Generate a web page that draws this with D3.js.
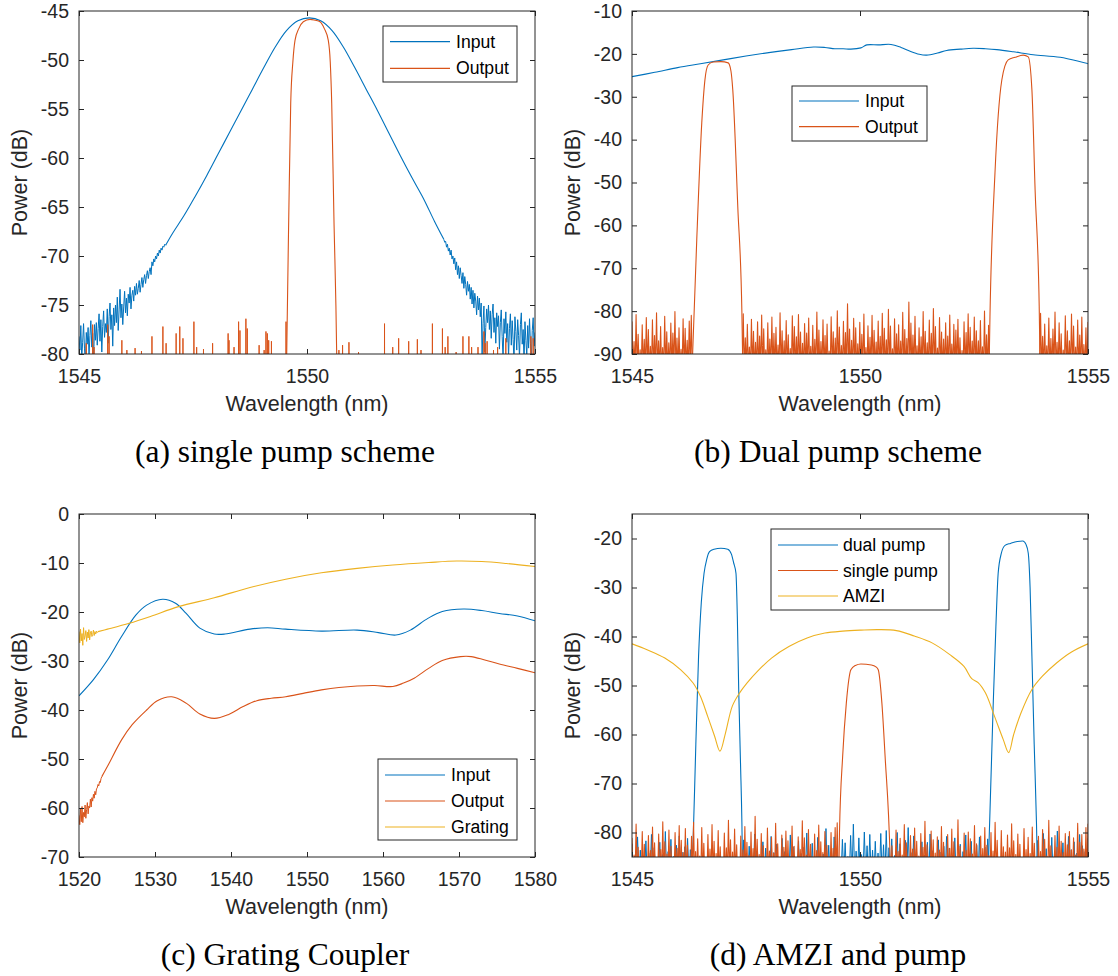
<!DOCTYPE html>
<html><head><meta charset="utf-8">
<script src="https://cdn.jsdelivr.net/npm/d3@7"></script>
<style>body{margin:0;background:#fff}svg{display:block}</style>
</head><body>
<script>
// ================= DATA =================
const BLUE = '#0072BD', ORANGE = '#D95319', YELLOW = '#EDB120';

// ---- (a) single pump scheme ----
const aXTicks = [1545, 1550, 1555];
const aYTicks = [-80, -75, -70, -65, -60, -55, -50, -45];
const aInLeftStart = 1545.00, aInLeftStep = 0.02;
const aInLeftVals = [
 -78.2,-79.6,-77.1,-80.5,-78.8,-76.9,-79.4,-81.0,-77.8,-79.0,
 -77.3,-80.2,-78.1,-76.6,-79.3,-77.9,-80.8,-77.0,-78.6,-76.8,
 -79.1,-77.4,-75.9,-78.7,-76.5,-79.8,-77.2,-75.6,-78.3,-76.9,
 -77.8,-75.4,-78.9,-76.2,-74.8,-77.5,-76.0,-79.2,-75.3,-77.1,
 -75.0,-76.8,-74.2,-77.6,-75.5,-73.4,-76.3,-74.9,-77.0,-75.2,
 -73.6,-75.8,-74.3,-76.1,-73.9,-74.8,-73.2,-75.4,-74.0,-73.5,
 -74.6,-73.1,-74.0,-72.8,-73.9,-73.3,-72.5,-73.7,-72.9,-72.2,
 -73.2,-72.4,-71.9,-72.8,-72.0,-71.5,-72.3,-71.6,-71.2,-71.9,
 -70.6,-71.0,-70.3,-70.6,-70.0,-70.3,-69.7,-70.0,-69.4,-69.7,
 -69.2,-69.4,-69.0,-69.1,-68.8,-68.9];
const aInCore = [
 [1546.9,-68.9],[1547.05,-67.7],[1547.3,-65.9],[1547.55,-63.9],[1547.8,-61.8],
 [1548.05,-59.6],[1548.3,-57.4],[1548.55,-55.2],[1548.8,-53.0],[1549.05,-50.8],
 [1549.3,-48.7],[1549.55,-47.0],[1549.8,-46.0],[1550.05,-45.7],[1550.3,-46.0],
 [1550.55,-47.0],[1550.8,-48.7],[1551.05,-50.8],[1551.3,-53.0],[1551.55,-55.2],
 [1551.8,-57.5],[1552.05,-59.8],[1552.3,-62.0],[1552.55,-64.1],[1552.8,-66.5],[1553.0,-68.3]];
const aInRightStart = 1553.00, aInRightStep = 0.02;
const aInRightVals = [
 -68.3,-68.6,-68.5,-69.1,-68.8,-69.5,-69.2,-69.9,-69.4,-70.3,
 -70.0,-70.8,-70.2,-71.4,-70.6,-71.9,-71.0,-72.3,-71.2,-72.0,
 -72.8,-71.7,-73.3,-72.1,-72.9,-74.0,-72.6,-73.6,-72.9,-74.4,
 -73.2,-74.9,-73.5,-75.3,-73.8,-74.6,-76.0,-74.1,-75.5,-74.3,
 -76.2,-74.8,-80.5,-76.9,-75.1,-79.8,-77.3,-75.4,-76.8,-75.0,
 -77.5,-75.6,-78.4,-76.0,-74.9,-77.8,-76.3,-78.9,-75.8,-77.2,
 -76.1,-79.5,-76.8,-75.5,-78.2,-80.6,-76.4,-77.9,-75.7,-78.8,
 -76.9,-80.3,-77.4,-75.9,-79.1,-76.6,-78.5,-80.8,-76.2,-77.7,
 -79.6,-76.5,-78.1,-80.4,-77.0,-75.8,-79.0,-77.5,-80.9,-76.7,
 -78.6,-80.2,-77.1,-79.4,-76.4,-78.9,-80.7,-77.6,-76.3,-79.2,
 -77.8];
const aOutBand = [
 [1549.53,-90],[1549.555,-80],[1549.6,-66],[1549.643,-54.4],[1549.69,-50.2],[1549.737,-48.0],
 [1549.82,-46.8],[1549.919,-46.1],[1550.066,-45.85],[1550.18,-45.95],[1550.285,-46.1],
 [1550.38,-46.8],[1550.467,-48.0],[1550.51,-50.2],[1550.542,-54.4],[1550.59,-66],
 [1550.651,-80],[1550.675,-90]];
const aOutSpikes = [
 [1545.16,-78.9],[1545.30,-77.0],[1545.33,-79.3],[1545.63,-77.0],[1545.66,-78.2],[1545.94,-78.6],
 [1546.05,-79.6],[1546.23,-79.4],[1546.37,-79.7],[1546.60,-78.2],[1546.84,-77.2],[1546.91,-78.9],
 [1547.13,-77.9],[1547.21,-77.2],[1547.28,-78.4],[1547.52,-76.7],[1547.58,-79.3],[1547.73,-79.5],
 [1547.93,-78.9],[1548.27,-77.9],[1548.29,-78.6],[1548.40,-79.3],[1548.50,-76.7],[1548.53,-77.6],
 [1548.66,-76.4],[1548.69,-77.4],[1548.95,-79.1],[1549.06,-79.6],[1549.10,-77.7],[1549.13,-77.9],
 [1549.16,-78.6],[1549.22,-78.7],[1549.54,-76.7],
 [1550.70,-79.6],[1550.78,-79.1],[1550.92,-78.8],[1551.13,-79.8],[1551.70,-76.9],[1551.88,-79.3],
 [1552.01,-78.4],[1552.23,-78.7],[1552.42,-78.5],[1552.50,-79.6],[1552.75,-76.9],[1552.97,-77.4],
 [1553.03,-79.3],[1553.09,-78.2],[1553.27,-79.8],[1553.42,-78.2],[1553.55,-78.2],[1553.61,-79.3],
 [1553.75,-79.3],[1553.88,-77.7],[1553.91,-78.9],[1553.95,-78.7],[1554.09,-79.6],[1554.18,-79.3],
 [1554.36,-78.4],[1554.91,-78.2],[1554.96,-78.4]];

// ---- (b) Dual pump scheme ----
const bXTicks = [1545, 1550, 1555];
const bYTicks = [-90, -80, -70, -60, -50, -40, -30, -20, -10];
const bInput = [
 [1545,-25.3],[1545.5,-24.3],[1546,-23.2],[1546.5,-22.3],[1547,-21.4],[1547.5,-20.5],
 [1548,-19.7],[1548.5,-19.0],[1548.98,-18.4],[1549.23,-18.5],[1549.45,-18.8],[1549.63,-18.8],
 [1549.8,-18.9],[1550.02,-18.6],[1550.15,-17.9],[1550.4,-17.9],[1550.68,-17.8],[1550.9,-18.5],
 [1551.1,-19.4],[1551.3,-20.1],[1551.46,-20.3],[1551.7,-19.8],[1551.9,-19.2],[1552.2,-18.9],
 [1552.48,-18.7],[1552.75,-18.8],[1553.0,-19.0],[1553.36,-19.5],[1553.8,-20.2],[1554.39,-20.8],
 [1555,-22.3]];
const bOutBand1 = [
 [1546.30,-100],[1546.33,-89.8],[1546.42,-63.4],[1546.53,-36.1],[1546.6,-26.0],[1546.67,-22.6],
 [1546.78,-21.9],[1546.95,-21.8],[1547.11,-22.1],[1547.17,-24.0],[1547.21,-28.4],[1547.32,-55.7],
 [1547.41,-80.4],[1547.44,-100]];
const bOutBand2 = [
 [1552.82,-100],[1552.85,-81.3],[1552.96,-47.8],[1553.11,-26.1],[1553.25,-21.4],[1553.4,-20.8],
 [1553.58,-20.3],[1553.69,-20.7],[1553.77,-28.4],[1553.84,-51.7],[1553.93,-79.0],[1553.96,-100]];
const bNoise1 = [1545.00, 1546.30, [
 -82.5,-87.1,-80.8,-85.4,-89.0,-83.2,-86.6,-81.5,-84.3,-88.2,
 -82.0,-85.7,-80.4,-86.9,-83.6,-88.5,-81.2,-84.8,-87.4,-82.8,
 -85.1,-80.1,-86.3,-83.9,-88.9,-81.8,-84.0,-86.8,-82.3,-81.0]];
const bNoise2 = [1547.44, 1552.82, [
 -80.6,-86.2,-83.1,-88.4,-81.9,-84.7,-87.3,-82.5,-85.8,-80.9,
 -84.1,-89.0,-82.7,-86.5,-81.4,-85.2,-83.8,-87.9,-80.4,-84.6,
 -86.9,-82.2,-85.5,-88.7,-81.1,-83.6,-86.0,-80.8,-84.9,-87.5,
 -82.9,-85.1,-81.6,-88.2,-83.3,-86.6,-80.2,-84.4,-87.1,-82.0,
 -85.7,-83.0,-89.3,-81.3,-84.8,-86.3,-79.9,-83.7,-88.0,-82.4,
 -85.0,-78.3,-84.2,-86.8,-81.7,-83.9,-87.6,-82.6,-85.4,-80.7,
 -88.5,-83.4,-86.1,-81.0,-84.5,-87.2,-82.3,-85.9,-80.5,-84.0,
 -86.7,-79.6,-83.5,-88.8,-81.8,-85.3,-83.2,-87.0,-80.3,-84.3,
 -86.4,-77.9,-82.8,-85.6,-81.2,-88.1,-83.9,-86.0,-80.1,-84.7,
 -87.4,-82.1,-85.2,-79.4,-83.6,-88.6,-81.5,-84.9,-86.5,-82.7,
 -85.8,-80.9,-87.7,-83.1,-84.4,-81.9,-86.2,-89.2,-82.5,-85.0,
 -80.6,-83.8,-87.0,-81.4,-84.6,-86.9,-82.2,-88.3,-80.0,-85.5,-83.3]];
const bNoise3 = [1553.96, 1555.00, [
 -80.5,-85.9,-83.0,-88.1,-81.6,-86.4,-84.2,-80.2,-87.3,-82.7,
 -85.3,-89.1,-81.1,-84.6,-86.9,-80.7,-83.5,-88.4,-82.1,-85.6,
 -81.4,-87.8,-83.9,-82.6]];

// ---- (c) Grating Coupler ----
const cXTicks = [1520, 1530, 1540, 1550, 1560, 1570, 1580];
const cYTicks = [-70, -60, -50, -40, -30, -20, -10, 0];
const cInput = [
 [1520,-37.1],[1521.9,-33.8],[1523.75,-29.8],[1525.6,-25.0],[1527.5,-20.6],[1528.9,-18.6],
 [1531.0,-17.4],[1532.7,-18.2],[1534.1,-20.3],[1535.9,-23.3],[1537.8,-24.5],[1539.2,-24.5],
 [1542.5,-23.5],[1544.8,-23.2],[1547.2,-23.5],[1551.9,-23.9],[1556.6,-23.7],[1559.4,-24.2],
 [1561.7,-24.7],[1563.6,-23.7],[1565.9,-21.3],[1567.8,-19.9],[1570.6,-19.4],[1573.0,-19.7],
 [1575.3,-20.3],[1577.7,-20.8],[1580,-21.8]];
const cOutNoiseStart = 1520.0, cOutNoiseStep = 0.1;
const cOutNoise = [
 -61.5,-63.4,-60.2,-62.8,-59.7,-63.0,-60.9,-61.8,-59.4,-62.1,
 -60.3,-58.9,-61.2,-59.6,-60.0,-58.2,-59.8,-57.9,-58.6,-57.2,
 -58.0,-56.6,-57.3,-56.1,-55.9,-55.2,-55.5,-54.6,-54.8,-54.0,-53.6];
const cOutput = [
 [1523,-53.6],[1523.75,-51.5],[1525.6,-46.1],[1527,-43.0],[1528.9,-40.0],[1530.3,-38.1],
 [1532.2,-37.3],[1534.1,-38.6],[1535.9,-40.8],[1537.8,-41.7],[1539.7,-40.9],[1541.6,-39.3],
 [1543.4,-38.1],[1545.3,-37.6],[1547.2,-37.3],[1549.5,-36.6],[1551.9,-35.9],[1554.2,-35.4],
 [1556.6,-35.1],[1558.9,-35.0],[1561.3,-35.2],[1562.7,-34.5],[1564.1,-33.5],[1566,-31.5],
 [1567.8,-29.9],[1570.2,-29.1],[1571.6,-29.1],[1573.4,-29.8],[1575.3,-30.6],[1577.7,-31.5],
 [1580,-32.4]];
const cGrNoiseStart = 1520.0, cGrNoiseStep = 0.1;
const cGrNoise = [
 -24.0,-26.3,-23.5,-25.9,-24.4,-26.8,-23.2,-25.6,-24.9,-23.8,
 -26.0,-24.1,-25.3,-23.6,-25.7,-24.3,-23.9,-25.0,-24.6,-23.7,
 -24.8,-24.0,-24.5,-23.9,-24.2,-24.0];
const cGrating = [
 [1522.5,-24.0],[1523.75,-23.5],[1526.6,-22.3],[1529.4,-20.9],[1533.1,-18.9],[1537.8,-17.1],
 [1542.5,-15.0],[1547.2,-13.3],[1551.9,-12.0],[1556.6,-11.1],[1561.3,-10.4],[1566,-9.9],
 [1569.7,-9.6],[1573,-9.7],[1576.25,-10.1],[1580,-10.7]];

// ---- (d) AMZI and pump ----
const dXTicks = [1545, 1550, 1555];
const dYTicks = [-80, -70, -60, -50, -40, -30, -20];
const dDualBand1 = [
 [1546.30,-92],[1546.33,-85],[1546.40,-62],[1546.46,-44],[1546.52,-33],[1546.58,-27.1],
 [1546.64,-24.2],[1546.70,-22.7],[1546.8,-22.2],[1546.95,-22.0],[1547.1,-22.2],[1547.18,-23.2],
 [1547.23,-25.0],[1547.28,-27.1],[1547.31,-36],[1547.34,-50.8],[1547.38,-66],[1547.41,-78],[1547.43,-92]];
const dDualBand2 = [
 [1552.80,-92],[1552.83,-82],[1552.92,-54.2],[1552.98,-38],[1553.03,-27.1],[1553.1,-23.0],
 [1553.18,-21.4],[1553.3,-21.0],[1553.45,-20.6],[1553.57,-20.5],[1553.64,-21.2],[1553.69,-23.0],
 [1553.73,-30],[1553.77,-44],[1553.82,-62],[1553.87,-78],[1553.9,-92]];
const dDualNoise1 = [1545.00, 1546.28, [
 -82.3,-84.8,-80.9,-83.6,-85.0,-81.7,-84.2,-80.4,-83.1,-85.3,-82.0,
 -84.5,-79.8,-83.9,-81.4,-84.9,-82.6,-80.7,-84.0,-82.9,-81.2,-83.5]];
const dDualNoise2 = [1547.45, 1552.80, [
 -81.5,-84.6,-82.8,-85.2,-80.3,-83.7,-84.9,-81.9,-83.2,-85.4,
 -80.8,-84.1,-82.4,-85.0,-81.2,-83.9,-84.7,-80.5,-82.9,-85.3,
 -81.7,-84.3,-83.0,-80.1,-84.8,-82.2,-85.1,-81.0,-83.5,-84.4,
 -79.2,-82.6,-84.0,-80.9,-83.3,-85.5,-81.4,-82.1,-84.9,-80.6,
 -78.3,-83.8,-81.1,-84.5,-79.9,-82.7,-80.4,-83.6,-81.8,-84.2,
 -80.2,-82.5,-79.6,-83.1,-81.3,-84.7,-80.0,-82.3,-85.0,-81.6,
 -79.0,-84.1,-80.7,-83.4,-85.2,-81.9,-84.6,-82.0,-80.3,-83.7,
 -85.4,-81.5,-84.0,-82.8,-80.8,-83.2,-84.8,-81.1,-85.1,-82.4,
 -83.9,-80.5,-84.3,-81.8,-85.3,-82.6,-80.9,-84.5,-83.0,-81.3]];
const dDualNoise3 = [1553.90, 1555.00, [
 -81.6,-84.4,-80.2,-83.3,-85.1,-81.0,-83.8,-79.7,-84.6,-82.1,
 -85.0,-80.8,-83.5,-81.9,-84.2,-80.4,-82.7,-83.9,-81.2]];
const dSingleBand = [
 [1549.53,-92],[1549.55,-80],[1549.62,-64.4],[1549.7,-53.6],[1549.8,-46.8],[1549.9,-45.9],
 [1550.02,-45.6],[1550.25,-45.8],[1550.35,-46.2],[1550.4,-46.8],[1550.48,-53.6],[1550.55,-64.4],
 [1550.66,-85],[1550.68,-92]];
const dSingleNoise1 = [1545.00, 1549.50, [
 -81.2,-84.6,-78.3,-83.0,-85.5,-79.8,-82.4,-84.9,-80.6,-83.7,
 -78.9,-82.1,-85.2,-80.3,-83.5,-77.8,-81.9,-84.4,-79.5,-82.8,
 -85.6,-80.0,-83.2,-78.6,-81.6,-84.1,-79.2,-82.6,-85.0,-80.8,
 -77.9,-83.9,-81.3,-84.8,-79.0,-82.2,-85.3,-80.4,-83.4,-78.4,
 -81.8,-84.3,-79.6,-82.9,-85.7,-80.1,-83.1,-77.5,-81.5,-84.0,
 -79.3,-82.5,-85.1,-80.7,-83.6,-78.8,-82.0,-84.7,-79.9,-83.3,
 -76.7,-81.4,-84.5,-80.2,-82.7,-85.4,-79.1,-83.8,-81.0,-84.2,
 -78.1,-82.3,-85.8,-80.5,-83.0,-79.7,-81.7,-84.9,-78.7,-82.8,
 -85.2,-80.9,-83.5,-77.6,-81.1,-84.6,-79.4,-82.4,-85.0,-80.3,
 -83.7,-78.5,-81.9,-84.1,-79.8,-82.6,-85.5,-80.0,-83.2,-79.0,-78.0]];
const dSingleNoise2 = [1550.70, 1555.00, [
 -82.7,-85.3,-79.5,-83.9,-81.2,-84.6,-78.4,-82.1,-85.0,-80.6,
 -83.4,-79.1,-81.8,-84.8,-80.2,-83.0,-77.7,-82.5,-85.4,-79.7,
 -81.5,-84.2,-80.9,-83.6,-78.8,-82.0,-85.6,-80.4,-83.2,-79.3,
 -81.9,-84.9,-77.4,-82.8,-85.1,-80.1,-83.7,-79.9,-81.3,-84.4,
 -78.6,-82.3,-85.7,-80.7,-83.3,-79.0,-82.6,-84.7,-80.0,-83.8,
 -77.9,-81.6,-85.2,-79.6,-82.9,-84.0,-80.5,-83.1,-78.2,-81.7,
 -84.5,-80.3,-82.4,-85.5,-79.2,-83.5,-81.0,-84.3,-78.9,-82.2,
 -85.0,-80.8,-83.9,-79.4,-81.4,-84.8,-77.5,-82.7,-85.3,-80.6,
 -83.0,-78.7,-81.8,-84.1,-80.2,-82.5,-79.8,-83.6,-81.1,-84.6,
 -78.1,-82.0,-80.4,-83.4,-79.0,-78.3]];
const dAMZI = [
 [1545,-41.5],[1545.33,-42.7],[1545.72,-44.4],[1546.07,-46.8],[1546.34,-49.5],[1546.5,-52.2],
 [1546.66,-56.3],[1546.81,-60.3],[1546.93,-63.4],[1547.05,-59.7],[1547.2,-54.2],[1547.36,-51.5],
 [1547.52,-49.5],[1547.75,-47.1],[1548.06,-44.4],[1548.45,-42.0],[1548.84,-40.3],[1549.23,-39.3],
 [1549.62,-38.9],[1550.02,-38.7],[1550.4,-38.6],[1550.8,-38.8],[1551.19,-39.9],[1551.58,-41.3],
 [1551.97,-43.7],[1552.28,-46.1],[1552.45,-48.6],[1552.59,-49.4],[1552.75,-51.5],[1552.95,-56.3],
 [1553.14,-61.0],[1553.26,-63.7],[1553.37,-60.0],[1553.53,-55.6],[1553.77,-50.8],[1554.0,-48.1],
 [1554.31,-45.4],[1554.63,-43.2],[1555,-41.5]];

// ================= HELPERS =================
const gridPts = (start, step, vals) => vals.map((v, i) => [start + i * step, v]);
function evenSpikes([start, end, peaks], floor) {
  const n = peaks.length, st = (end - start) / (n - 1);
  const pts = [[start - st / 2, floor]];
  peaks.forEach((p, i) => { const x = start + i * st; pts.push([x, p], [x + st / 2, floor]); });
  return pts;
}
function isolatedSpikes(list, floor, hw) {
  const pts = [];
  list.forEach(([x, p]) => pts.push([x - hw, floor], [x, p], [x + hw, floor]));
  return pts;
}

// ================= DRAW =================
const W = 1118, H = 976;
const svg = d3.select('body').append('svg').attr('width', W).attr('height', H)
  .style('background', '#fff');
const defs = svg.append('defs');
const SANS = '"Liberation Sans", Arial, Helvetica, sans-serif';
const SERIF = '"Liberation Serif", "Times New Roman", Times, serif';
const AX = '#262626';
const LIN = d3.curveLinear, SMOOTH = d3.curveCatmullRom.alpha(0.5), MONO = d3.curveMonotoneX;

function drawPanel(o) {
  const g = svg.append('g').attr('transform', `translate(${o.x0},${o.y0})`);
  const x = d3.scaleLinear().domain(o.xd).range([0, o.w]);
  const y = d3.scaleLinear().domain(o.yd).range([o.h, 0]);
  defs.append('clipPath').attr('id', 'clip' + o.id)
    .append('rect').attr('width', o.w).attr('height', o.h);
  const plot = g.append('g').attr('clip-path', `url(#clip${o.id})`);
  o.series.forEach(s => s.segs.forEach(seg => {
    const line = d3.line().x(d => x(d[0])).y(d => y(d[1])).curve(seg.curve || LIN);
    plot.append('path').attr('d', line(seg.pts)).attr('fill', 'none')
      .attr('stroke', s.color).attr('stroke-width', seg.sw || 1.1)
      .attr('stroke-linejoin', 'round');
  }));

  const fmt = d => String(d);
  const styleAxis = sel => {
    sel.select('.domain').remove();
    sel.selectAll('.tick line').attr('stroke', AX).attr('stroke-width', 1);
    sel.selectAll('.tick text').attr('fill', AX).style('font-family', SANS).style('font-size', '19.5px');
  };
  g.append('g').attr('transform', `translate(0,${o.h})`)
    .call(d3.axisBottom(x).tickValues(o.xt).tickSizeInner(-5).tickSizeOuter(0).tickPadding(15).tickFormat(fmt))
    .call(styleAxis);
  g.append('g')
    .call(d3.axisTop(x).tickValues(o.xt).tickSizeInner(-5).tickSizeOuter(0).tickFormat(''))
    .call(styleAxis);
  g.append('g')
    .call(d3.axisLeft(y).tickValues(o.yt).tickSizeInner(-5).tickSizeOuter(0).tickPadding(10).tickFormat(fmt))
    .call(styleAxis);
  g.append('g').attr('transform', `translate(${o.w},0)`)
    .call(d3.axisRight(y).tickValues(o.yt).tickSizeInner(-5).tickSizeOuter(0).tickFormat(''))
    .call(styleAxis);
  g.append('rect').attr('width', o.w).attr('height', o.h).attr('fill', 'none')
    .attr('stroke', AX).attr('stroke-width', 1);

  g.append('text').attr('x', o.w / 2).attr('y', o.h + 57).attr('text-anchor', 'middle')
    .attr('fill', AX).style('font-family', SANS).style('font-size', '21.5px').text('Wavelength (nm)');
  g.append('text').attr('transform', `translate(-52,${o.h / 2}) rotate(-90)`).attr('text-anchor', 'middle')
    .attr('fill', AX).style('font-family', SANS).style('font-size', '21.5px').text('Power (dB)');

  // legend
  const L = o.legend;
  const lg = svg.append('g');
  lg.append('rect').attr('x', L.x).attr('y', L.y).attr('width', L.w).attr('height', L.h)
    .attr('fill', '#fff').attr('stroke', AX).attr('stroke-width', 1);
  L.items.forEach((it, i) => {
    const ty = L.rows[i];
    lg.append('line').attr('x1', L.lx1).attr('x2', L.lx2).attr('y1', ty).attr('y2', ty)
      .attr('stroke', it[1]).attr('stroke-width', 1.2);
    lg.append('text').attr('x', L.tx).attr('y', ty).attr('dy', '0.35em').attr('fill', '#000')
      .style('font-family', SANS).style('font-size', '17.6px').text(it[0]);
  });

  svg.append('text').attr('x', o.cx).attr('y', o.cy).attr('text-anchor', 'middle').attr('fill', '#000')
    .style('font-family', SERIF).style('font-size', '31.5px').text(o.caption);
}

const PW = 456, PH = 343;

drawPanel({
  id: 'a', x0: 79, y0: 11, w: PW, h: PH, xd: [1545, 1555], yd: [-80, -45], xt: aXTicks, yt: aYTicks,
  series: [
    { color: BLUE, segs: [
      { pts: gridPts(aInLeftStart, aInLeftStep, aInLeftVals), sw: 1 },
      { pts: aInCore, curve: SMOOTH },
      { pts: gridPts(aInRightStart, aInRightStep, aInRightVals), sw: 1 } ] },
    { color: ORANGE, segs: [
      { pts: isolatedSpikes(aOutSpikes, -100, 0.008), sw: 1 },
      { pts: aOutBand, curve: MONO } ] }
  ],
  legend: { x: 383, y: 26, w: 134, h: 56, rows: [41.7, 68.3], lx1: 390, lx2: 450, tx: 456,
    items: [['Input', BLUE], ['Output', ORANGE]] },
  caption: '(a) single pump scheme', cx: 285, cy: 462
});

drawPanel({
  id: 'b', x0: 632, y0: 11, w: PW, h: PH, xd: [1545, 1555], yd: [-90, -10], xt: bXTicks, yt: bYTicks,
  series: [
    { color: BLUE, segs: [{ pts: bInput, curve: SMOOTH }] },
    { color: ORANGE, segs: [
      { pts: evenSpikes(bNoise1, -94), sw: 1.1 },
      { pts: evenSpikes(bNoise2, -94), sw: 1.1 },
      { pts: evenSpikes(bNoise3, -94), sw: 1.1 },
      { pts: bOutBand1, curve: MONO },
      { pts: bOutBand2, curve: MONO } ] }
  ],
  legend: { x: 792, y: 86, w: 135, h: 55, rows: [101, 126.7], lx1: 799, lx2: 859, tx: 865,
    items: [['Input', BLUE], ['Output', ORANGE]] },
  caption: '(b) Dual pump scheme', cx: 838, cy: 462
});

drawPanel({
  id: 'c', x0: 79, y0: 514, w: PW, h: PH, xd: [1520, 1580], yd: [-70, 0], xt: cXTicks, yt: cYTicks,
  series: [
    { color: BLUE, segs: [{ pts: cInput, curve: SMOOTH }] },
    { color: ORANGE, segs: [
      { pts: gridPts(cOutNoiseStart, cOutNoiseStep, cOutNoise), sw: 1 },
      { pts: cOutput, curve: SMOOTH } ] },
    { color: YELLOW, segs: [
      { pts: gridPts(cGrNoiseStart, cGrNoiseStep, cGrNoise), sw: 1 },
      { pts: cGrating, curve: SMOOTH } ] }
  ],
  legend: { x: 378, y: 759, w: 139, h: 81, rows: [775, 801, 827], lx1: 385, lx2: 445, tx: 451,
    items: [['Input', BLUE], ['Output', ORANGE], ['Grating', YELLOW]] },
  caption: '(c) Grating Coupler', cx: 285, cy: 965
});

drawPanel({
  id: 'd', x0: 632, y0: 514, w: PW, h: PH, xd: [1545, 1555], yd: [-85, -15], xt: dXTicks, yt: dYTicks,
  series: [
    { color: BLUE, segs: [
      { pts: evenSpikes(dDualNoise1, -89), sw: 1 },
      { pts: evenSpikes(dDualNoise2, -89), sw: 1 },
      { pts: evenSpikes(dDualNoise3, -89), sw: 1 },
      { pts: dDualBand1, curve: MONO },
      { pts: dDualBand2, curve: MONO } ] },
    { color: ORANGE, segs: [
      { pts: evenSpikes(dSingleNoise1, -89), sw: 1.1 },
      { pts: evenSpikes(dSingleNoise2, -89), sw: 1.1 },
      { pts: dSingleBand, curve: MONO } ] },
    { color: YELLOW, segs: [{ pts: dAMZI, curve: SMOOTH }] }
  ],
  legend: { x: 771, y: 529, w: 178, h: 81, rows: [545, 570.5, 596], lx1: 778, lx2: 838, tx: 843,
    items: [['dual pump', BLUE], ['single pump', ORANGE], ['AMZI', YELLOW]] },
  caption: '(d) AMZI and pump', cx: 838, cy: 965
});
</script>
</body></html>
